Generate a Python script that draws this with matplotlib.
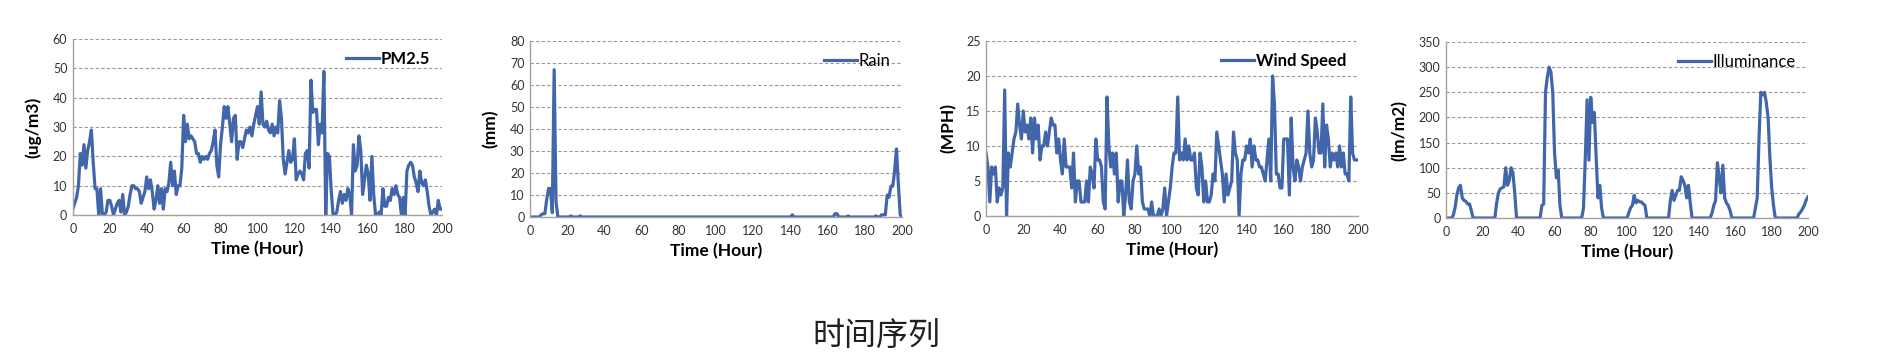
import matplotlib
matplotlib.use("Agg")

import matplotlib.pyplot as plt

plt.rcParams["font.family"] = ["Lato", "DejaVu Sans"]

# PM2.5, one value per hour (0..200)
pm25 = [2, 4, 6, 10, 21, 17, 24, 16, 22, 25, 29, 18, 9, 9, 0, 9, 0, 0, 1, 5,
        5, 3, 0, 2, 4, 5, 1, 7, 0, 1, 3, 7, 10, 10, 9, 9, 8, 4, 6, 8,
        13, 9, 12, 8, 2, 5, 10, 4, 9, 2, 9, 8, 11, 18, 10, 15, 7, 10, 10, 16,
        34, 25, 31, 26, 27, 26, 25, 21, 21, 18, 20, 19, 20, 19, 21, 22, 25, 29, 17, 13,
        24, 30, 37, 33, 37, 31, 25, 33, 34, 19, 25, 25, 23, 26, 29, 28, 30, 27, 31, 34,
        37, 31, 42, 31, 30, 32, 29, 28, 31, 27, 30, 28, 39, 33, 19, 14, 18, 22, 18, 19,
        26, 12, 14, 15, 14, 12, 21, 22, 16, 46, 35, 36, 36, 24, 31, 28, 49, 0, 21, 20,
        8, 0, 0, 1, 5, 8, 4, 7, 5, 9, 7, 0, 24, 15, 17, 27, 22, 7, 12, 17,
        14, 5, 20, 7, 0, 0, 1, 0, 9, 3, 3, 6, 5, 9, 7, 10, 7, 6, 0, 6,
        0, 15, 17, 18, 17, 13, 11, 8, 15, 11, 10, 12, 8, 3, 0, 1, 2, 0, 5, 2,
        2]

# Rain, hours and values at the turning points
rain_hours = [0, 5, 6, 7, 8, 9, 10, 11, 12, 13, 14, 15, 21, 22, 23, 26, 27, 28,
              140, 141, 142, 163, 164, 165, 166, 170, 171, 172, 185, 186, 187,
              188, 189, 190, 191, 192, 193, 194, 195, 196, 197, 198, 199, 200]
rain_vals = [0, 0, 1, 1.5, 1.5, 8, 13, 13, 2, 67, 7, 0, 0, 0.5, 0, 0, 0.5, 0,
             0, 1, 0, 0, 1.5, 1.5, 0, 0, 0.5, 0, 0, 0.5, 0,
             0, 1, 1, 1, 10, 9, 14, 14, 21, 31, 15, 1, 0]

# Wind speed, one value per hour (0..200)
wind = [9, 7, 2, 7, 6, 7, 2, 4, 3, 4, 18, 0, 9, 7, 9, 11, 12, 16, 13, 11,
        15, 12, 13, 11, 14, 9, 14, 11, 13, 8, 10, 10, 12, 10, 12, 14, 13, 13, 9, 11,
        8, 6, 11, 7, 7, 7, 4, 9, 2, 5, 5, 2, 2, 2, 5, 2, 7, 6, 4, 11,
        8, 8, 7, 2, 1, 17, 10, 7, 9, 6, 9, 2, 5, 5, 0, 3, 8, 2, 1, 5,
        6, 10, 6, 7, 2, 1, 1, 1, 0, 2, 0, 0, 0, 1, 0, 1, 4, 0, 2, 4,
        7, 9, 9, 17, 8, 9, 8, 11, 8, 10, 8, 8, 9, 4, 3, 9, 7, 2, 5, 2,
        2, 3, 6, 5, 12, 10, 8, 6, 2, 6, 3, 4, 5, 12, 9, 8, 0, 6, 8, 8,
        10, 9, 11, 7, 10, 8, 8, 7, 7, 6, 5, 8, 11, 5, 20, 16, 6, 6, 4, 4,
        11, 11, 11, 3, 14, 7, 5, 8, 7, 5, 7, 8, 9, 15, 9, 7, 8, 14, 12, 9,
        9, 16, 7, 13, 11, 7, 9, 8, 9, 7, 10, 7, 9, 6, 6, 5, 17, 9, 8, 8,
        8]

# Illuminance, hours and values at the turning points
lux_hours = [0, 3, 4, 5, 6, 7, 8, 9, 10, 11, 12, 13, 14, 15,
             27, 28, 29, 30, 31, 32, 33, 34, 35, 36, 37, 38, 39,
             52, 53, 54, 55, 56, 57, 58, 59, 60, 61, 62, 63, 64,
             75, 76, 77, 78, 79, 80, 81, 82, 83, 84, 85, 86, 87,
             100, 101, 102, 103, 104, 105, 106, 107, 108, 109, 110, 111,
             123, 124, 125, 126, 127, 128, 129, 130, 131, 132, 133, 134, 135, 136,
             146, 147, 148, 149, 150, 151, 152, 153, 154, 155, 156, 157, 158,
             170, 171, 172, 173, 174, 175, 176, 177, 178, 179, 180, 181, 182,
             194, 195, 196, 197, 198, 199, 200]
lux_vals = [0, 0, 5, 20, 45, 60, 65, 40, 35, 33, 28, 28, 15, 0,
            0, 30, 50, 58, 60, 62, 100, 65, 75, 100, 90, 50, 0,
            0, 25, 28, 250, 280, 300, 290, 250, 130, 80, 95, 25, 0,
            0, 20, 120, 235, 115, 240, 190, 210, 120, 40, 65, 20, 0,
            0, 10, 20, 25, 45, 30, 35, 32, 32, 28, 25, 0,
            0, 35, 55, 35, 45, 55, 55, 82, 75, 65, 40, 65, 30, 0,
            0, 10, 25, 35, 110, 80, 50, 105, 40, 30, 25, 15, 0,
            0, 20, 40, 160, 250, 245, 250, 230, 200, 120, 60, 25, 0,
            0, 8, 12, 18, 25, 35, 42]

hours = list(range(len(pm25)))

panels = [
    (hours, pm25, "PM2.5", "(ug/m3)", 60, 10, "bold"),
    (rain_hours, rain_vals, "Rain", "(mm)", 80, 10, "normal"),
    (hours, wind, "Wind Speed", "(MPH)", 25, 5, "bold"),
    (lux_hours, lux_vals, "Illuminance", "(lm/m2)", 350, 50, "normal"),
]

# axes boxes in figure fractions, taken from the reference layout
boxes = [
    [0.0387, 0.396, 0.1959, 0.494],
    [0.2813, 0.3904, 0.1975, 0.494],
    [0.5234, 0.3933, 0.1975, 0.4916],
    [0.7675, 0.3876, 0.1921, 0.4944],
]
ylabel_pads = [8, 8, 7, 8]

line_color = "#4266AA"
grid_color = "#9a9a9a"

fig = plt.figure(figsize=(18.84, 3.56), dpi=100)

for (x, y, name, unit, ymax, ystep, wt), box, lp in zip(panels, boxes, ylabel_pads):
    ax = fig.add_axes(box)
    ax.plot(x, y, color=line_color, lw=2.3, label=name, solid_joinstyle="round")
    ax.set_xlim(0, 200)
    ax.set_ylim(0, ymax)
    ax.set_xticks(range(0, 201, 20))
    ax.set_yticks(range(0, ymax + 1, ystep))
    ax.grid(axis="y", color=grid_color, ls=(0, (3, 2)), lw=0.8)
    ax.set_axisbelow(True)
    for s in ("top", "right"):
        ax.spines[s].set_visible(False)
    for s in ("left", "bottom"):
        ax.spines[s].set_color("#a8a29c")
        ax.spines[s].set_linewidth(1.0)
    ax.tick_params(length=0, labelsize=9, colors="#333333")
    ax.tick_params(axis="x", pad=6)
    ax.tick_params(axis="y", pad=4)
    ax.set_xlabel("Time (Hour)", fontsize=12.5, fontweight="bold", labelpad=4)
    ax.set_ylabel(unit, fontsize=12.5, fontweight="bold", labelpad=lp)
    ax.legend(loc="upper right", frameon=False, handlelength=2.0,
              handletextpad=0.1, borderaxespad=0.3,
              prop={"size": 12, "weight": wt})

fig.text(0.465, 0.053, "时间序列", ha="center", va="center", fontsize=23,
         color="#231f20", family=["Noto Sans CJK SC", "DejaVu Sans"],
         fontweight="light")

fig.savefig("out.png", dpi=100)
